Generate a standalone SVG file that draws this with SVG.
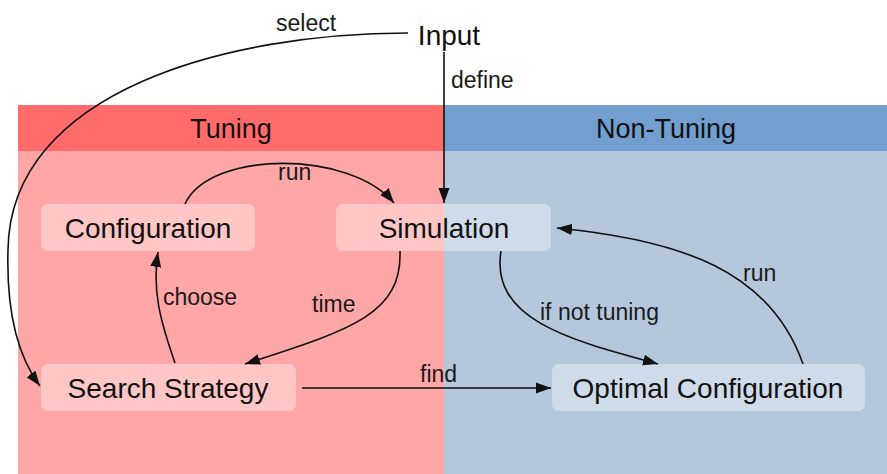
<svg xmlns="http://www.w3.org/2000/svg" width="887" height="474" viewBox="0 0 887 474">
<style>
.node{fill:#ffffff;fill-opacity:0.36;}
.nt{font-family:"Liberation Sans",Arial,sans-serif;font-size:28px;fill:#111;text-anchor:middle;}
.hd{font-family:"Liberation Sans",Arial,sans-serif;font-size:27px;fill:#111;text-anchor:middle;}
.lb{font-family:"Liberation Sans",Arial,sans-serif;font-size:23px;fill:#1a1a1a;}
.edge{fill:none;stroke:#111;stroke-width:1.6;}
</style>
<defs>
<marker id="ah" markerUnits="userSpaceOnUse" markerWidth="16" markerHeight="12" refX="15" refY="6" orient="auto">
<path d="M0,0.5 L15,6 L0,11.5 z" fill="#111"/>
</marker>
</defs>
<rect width="887" height="474" fill="#ffffff"/>
<g id="lanes">
<rect x="18" y="105" width="426" height="46" fill="#ff6b6b"/>
<rect x="18" y="151" width="426" height="323" fill="#ffa6a6"/>
<rect x="444" y="105" width="443" height="46" fill="#729fcf"/>
<rect x="444" y="151" width="443" height="323" fill="#b4c7dc"/>
<text class="hd" x="231" y="138">Tuning</text>
<text class="hd" x="666" y="138">Non-Tuning</text>
</g>
<g id="input"><text class="nt" x="449" y="45">Input</text></g>
<g id="configuration">
<rect class="node" x="41" y="204" width="214" height="47" rx="7"/>
<text class="nt" x="148" y="238">Configuration</text>
</g>
<g id="simulation">
<rect class="node" x="336" y="204" width="215" height="47" rx="7"/>
<text class="nt" x="444" y="238">Simulation</text>
</g>
<g id="search-strategy">
<rect class="node" x="41" y="364" width="255" height="47" rx="7"/>
<text class="nt" x="168" y="398">Search Strategy</text>
</g>
<g id="optimal-configuration">
<rect class="node" x="552" y="364" width="313" height="47" rx="7"/>
<text class="nt" x="708" y="398">Optimal Configuration</text>
</g>
<g id="connectors">
<path class="edge" d="M408 33 C230 33, 10 90, 8 250 C6 320, 22 362, 40 386" marker-end="url(#ah)"/>
<path class="edge" d="M444 52 L444 203" marker-end="url(#ah)" stroke="#333"/>
<path class="edge" d="M185 204 C210 150, 350 150, 394 203" marker-end="url(#ah)"/>
<path class="edge" d="M400 251 C402 315, 350 330, 245 364" marker-end="url(#ah)"/>
<path class="edge" d="M175 363 C160 320, 152 290, 158 252" marker-end="url(#ah)"/>
<path class="edge" d="M302 388 L551 388" marker-end="url(#ah)"/>
<path class="edge" d="M501 251 C490 320, 570 340, 658 364" marker-end="url(#ah)"/>
<path class="edge" d="M803 364 C770 270, 680 240, 557 228" marker-end="url(#ah)"/>
<text class="lb" x="276" y="31">select</text>
<text class="lb" x="451" y="88" fill="#333">define</text>
<text class="lb" x="278" y="180">run</text>
<text class="lb" x="163" y="305">choose</text>
<text class="lb" x="312" y="312">time</text>
<text class="lb" x="540" y="320">if not tuning</text>
<text class="lb" x="743" y="281">run</text>
<text class="lb" x="420" y="382">find</text>
</g>
</svg>
